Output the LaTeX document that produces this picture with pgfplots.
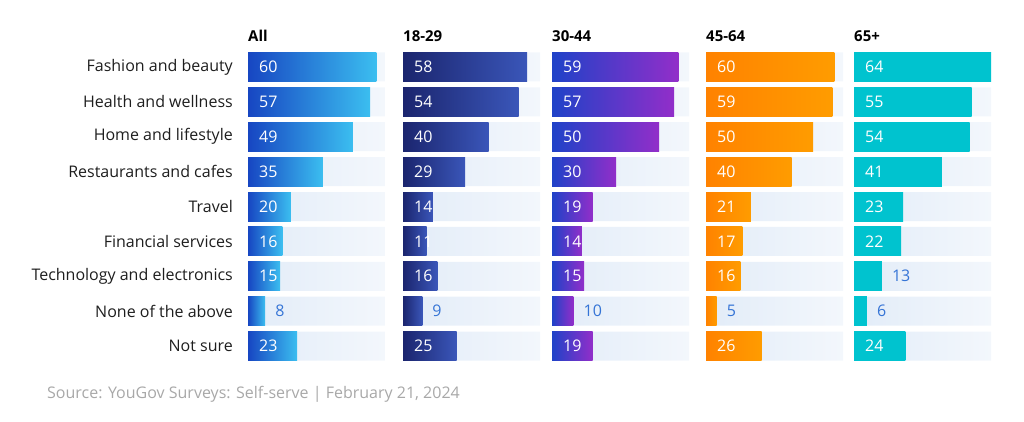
\documentclass[border=0pt]{standalone}
\usepackage{fontspec}
\setmainfont{Open Sans}
\usepackage{pgfplots}
\usepackage{pgfplotstable}
\pgfplotsset{compat=1.18}

\definecolor{trkL}{HTML}{E2ECF8}
\definecolor{trkR}{HTML}{F3F7FC}
\definecolor{allL}{HTML}{1746C2}
\definecolor{allR}{HTML}{3BBEF0}
\definecolor{aL}{HTML}{1B256E}
\definecolor{aR}{HTML}{3A56B9}
\definecolor{bL}{HTML}{1F42C8}
\definecolor{bR}{HTML}{922EC9}
\definecolor{cL}{HTML}{FF8200}
\definecolor{cR}{HTML}{FF9C00}
\definecolor{dL}{HTML}{00C3CF}
\definecolor{dR}{HTML}{00C3CF}
\definecolor{outlab}{HTML}{3574D6}
\definecolor{cat}{HTML}{1E1E1E}
\definecolor{src}{HTML}{A8A8A8}

\newcommand{\vf}{\fontsize{16}{19}\selectfont}

% rows top to bottom: 0 = Fashion and beauty ... 8 = Not sure
\pgfplotstableread{
row all ya yb yc yd
0 60 58 59 60 64
1 57 54 57 59 55
2 49 40 50 50 54
3 35 29 30 40 41
4 20 14 19 21 23
5 16 11 14 17 22
6 15 16 15 16 13
7 8 9 10 5 6
8 23 25 19 26 24
}\data

\pgfplotsset{
  panel/.style={
    scale only axis, width=137pt, height=314pt,
    xmin=0, xmax=64, ymin=-0.5, ymax=8.5, y dir=reverse,
    axis line style={draw=none}, tick style={draw=none},
    xtick=\empty, ytick=\empty, clip=false, anchor=north west,
    /pgf/number format/assume math mode=true,
    title style={at={(axis description cs:0,1)}, anchor=base west,
      inner sep=0pt, yshift=2pt, font=\fontsize{15}{18}\selectfont\bfseries},
  },
  bars/.style 2 args={xbar, bar width=29pt, bar shift=0pt, draw=none,
    left color=#1, right color=#2},
  inlab/.style 2 args={draw=none, mark=none, point meta=\thisrow{#1},
    restrict expr to domain={\thisrow{#1}}{#2:100},
    nodes near coords, nodes near coords style={white, anchor=west,
      xshift=11pt, inner sep=0pt, font=\vf}},
  outlab/.style 2 args={draw=none, mark=none, point meta=\thisrow{#1},
    restrict expr to domain={\thisrow{#1}}{0:#2},
    nodes near coords, nodes near coords style={text=outlab, anchor=west,
      xshift=10pt, inner sep=0pt, font=\vf}},
}

% track, one shaded bar per row, then the labels
% #1 column, #2 left colour, #3 right colour, #4 split between outside and inside labels
\newcommand{\panelplots}[4]{%
  \addplot[bars={trkL}{trkR}] table[x expr=64, y=row] {\data};
  \pgfplotsinvokeforeach{0,...,8}{%
    \addplot[bars={#2}{#3}, restrict expr to domain={\thisrow{row}}{##1:##1}]
      table[x=#1, y=row] {\data};
  }
  \addplot[inlab={#1}{#4}] table[x expr=0, y=row] {\data};
  \addplot[outlab={#1}{#4}] table[x=#1, y=row] {\data};
}

\begin{document}
\begin{tikzpicture}
\useasboundingbox (0,0) rectangle (1024pt,-421pt);

\begin{axis}[panel, at={(248pt,-49.5pt)}, title={All},
  ytick={0,...,8},
  yticklabels={Fashion and beauty, Health and wellness, Home and lifestyle,
    Restaurants and cafes, Travel, Financial services,
    Technology and electronics, None of the above, Not sure},
  yticklabel style={font=\vf, text=cat, anchor=east, inner sep=0pt, xshift=-15pt}]
\panelplots{all}{allL}{allR}{10.5}
\end{axis}

\begin{axis}[panel, at={(403pt,-49.5pt)}, title={18-29}]
\panelplots{ya}{aL}{aR}{10.5}
\end{axis}

\begin{axis}[panel, at={(552pt,-49.5pt)}, title={30-44}]
\panelplots{yb}{bL}{bR}{10.5}
\end{axis}

\begin{axis}[panel, at={(706pt,-49.5pt)}, title={45-64}]
\panelplots{yc}{cL}{cR}{10.5}
\end{axis}

\begin{axis}[panel, at={(854pt,-49.5pt)}, title={65+}]
\panelplots{yd}{dL}{dR}{13.5}
\end{axis}

\node[anchor=base west, inner sep=0pt, text=src, font=\fontsize{16}{19}\selectfont]
  at (47pt,-398pt) {Source: YouGov Surveys: Self-serve | February 21, 2024};
\end{tikzpicture}
\end{document}
